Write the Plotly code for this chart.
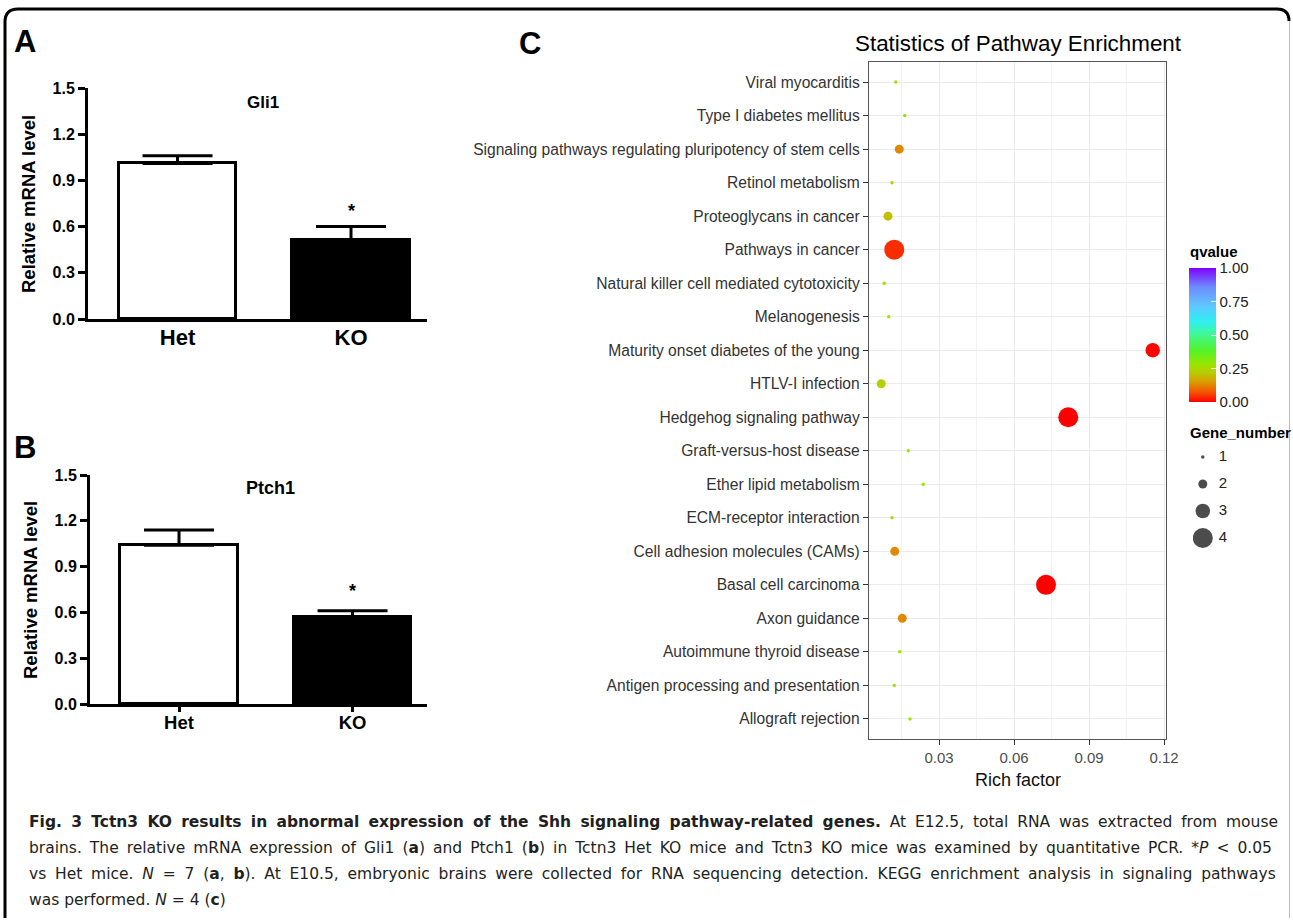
import plotly.graph_objects as go

W, H = 1293, 921
def px(x): return x / W
def py(y): return 1 - y / H

# ---------------- data ----------------
groups = ["Het", "KO"]
gli1_mean = [1.01, 0.51]
gli1_sem = [0.05, 0.09]
ptch1_mean = [1.04, 0.57]
ptch1_sem = [0.10, 0.04]
bar_ticks = [0.0, 0.3, 0.6, 0.9, 1.2, 1.5]

pathways = [
    "Viral myocarditis",
    "Type I diabetes mellitus",
    "Signaling pathways regulating pluripotency of stem cells",
    "Retinol metabolism",
    "Proteoglycans in cancer",
    "Pathways in cancer",
    "Natural killer cell mediated cytotoxicity",
    "Melanogenesis",
    "Maturity onset diabetes of the young",
    "HTLV-I infection",
    "Hedgehog signaling pathway",
    "Graft-versus-host disease",
    "Ether lipid metabolism",
    "ECM-receptor interaction",
    "Cell adhesion molecules (CAMs)",
    "Basal cell carcinoma",
    "Axon guidance",
    "Autoimmune thyroid disease",
    "Antigen processing and presentation",
    "Allograft rejection",
]
rich_factor = [0.0127, 0.0163, 0.0141, 0.0112, 0.0096, 0.0121, 0.0081, 0.0099, 0.1155, 0.0069,
               0.0817, 0.0177, 0.0237, 0.0112, 0.0123, 0.0728, 0.0153, 0.0143, 0.0121, 0.0184]
qvalue = [0.27, 0.29, 0.13, 0.27, 0.20, 0.04, 0.29, 0.28, 0.005, 0.23,
          0.0, 0.28, 0.28, 0.27, 0.13, 0.0, 0.13, 0.28, 0.28, 0.28]
gene_number = [1, 1, 2, 1, 2, 4, 1, 1, 3, 2, 4, 1, 1, 1, 2, 4, 2, 1, 1, 1]
rich_ticks = [0.03, 0.06, 0.09, 0.12]
q_ticks = [0.0, 0.25, 0.5, 0.75, 1.0]
size_levels = [1, 2, 3, 4]

# ---------------- styles ----------------
size_map = {1: 3.5, 2: 9, 3: 14.5, 4: 20}
bar_fill = ["white", "black"]
q_scale = [
    [0.00, "#FF0000"], [0.08, "#F25A00"], [0.15, "#DA9C00"], [0.22, "#B9CC00"],
    [0.28, "#9AE600"], [0.38, "#55F226"], [0.50, "#40F890"], [0.60, "#30F0F0"],
    [0.72, "#5FC6FF"], [0.86, "#6E8AFF"], [1.00, "#8000FF"],
]
ARIAL = "Liberation Sans, Arial, sans-serif"

fig = go.Figure()

# ---------------- panel A & B bars ----------------
for idx, (means, sems) in enumerate([(gli1_mean, gli1_sem), (ptch1_mean, ptch1_sem)]):
    xa = "x" if idx == 0 else "x2"
    ya = "y" if idx == 0 else "y2"
    fig.add_trace(go.Bar(
        x=groups, y=means, xaxis=xa, yaxis=ya, width=0.675,
        marker=dict(color=bar_fill, line=dict(color="black", width=3)),
        error_y=dict(type="data", symmetric=False, array=sems, arrayminus=[0] * len(sems),
                     color="black", thickness=3, width=35),
        showlegend=False, hoverinfo="skip",
    ))

# ---------------- panel C bubbles ----------------
fig.add_trace(go.Scatter(
    x=rich_factor, y=pathways, mode="markers", xaxis="x3", yaxis="y3",
    marker=dict(
        size=[size_map[g] for g in gene_number], color=qvalue, cmin=0, cmax=1,
        colorscale=q_scale, line=dict(width=0), opacity=1,
        colorbar=dict(
            thickness=27, thicknessmode="pixels", len=134, lenmode="pixels",
            x=px(1189), xanchor="left", y=py(335), yanchor="middle", xpad=0, ypad=0,
            tickvals=q_ticks, tickformat=".2f", ticks="inside", tickcolor="rgba(255,255,255,0.8)", ticklen=5,
            outlinewidth=0, tickfont=dict(family=ARIAL, size=15, color="#222"),
        ),
    ),
    showlegend=False, hoverinfo="skip",
))

# size legend
fig.add_trace(go.Scatter(
    x=[0] * len(size_levels), y=size_levels, mode="markers", xaxis="x4", yaxis="y4",
    marker=dict(color="black", size=[size_map[s] for s in size_levels], line=dict(width=0)),
    showlegend=False, hoverinfo="skip",
))
fig.add_trace(go.Scatter(
    x=[1] * len(size_levels), y=size_levels, mode="text", xaxis="x4", yaxis="y4",
    text=[str(s) for s in size_levels], textposition="middle center",
    textfont=dict(family=ARIAL, size=15, color="#222"),
    showlegend=False, hoverinfo="skip",
))

axis_black = dict(showline=True, linecolor="black", linewidth=3, showgrid=False, zeroline=False,
                  automargin=False)

fig.update_layout(
    width=W, height=H, margin=dict(l=0, r=0, t=0, b=0, pad=0, autoexpand=False),
    paper_bgcolor="white", plot_bgcolor="white", bargap=0,
    xaxis=dict(domain=[px(88), px(427)], anchor="y", range=[-0.516, 1.438], ticks="",
               tickfont=dict(family=ARIAL, size=22, color="black", weight="bold"),
               ticklabelstandoff=-3, **axis_black),
    yaxis=dict(domain=[py(319), py(88)], anchor="x", range=[0, 1.5], tickvals=bar_ticks, tickformat=".1f",
               ticks="outside", ticklen=7, tickwidth=2.5, tickcolor="black",
               tickfont=dict(family=ARIAL, size=16, color="black", weight="bold"), **axis_black),
    xaxis2=dict(domain=[px(90), px(427)], anchor="y2", range=[-0.513, 1.429], ticks="outside",
                ticklen=5, tickwidth=2.5, tickcolor="black", ticklabelstandoff=-5,
                tickfont=dict(family=ARIAL, size=18.5, color="black", weight="bold"), **axis_black),
    yaxis2=dict(domain=[py(704), py(475)], anchor="x2", range=[0, 1.5], tickvals=bar_ticks, tickformat=".1f",
                ticks="outside", ticklen=7, tickwidth=2.5, tickcolor="black",
                tickfont=dict(family=ARIAL, size=16, color="black", weight="bold"), **axis_black),
    xaxis3=dict(domain=[px(869), px(1166)], anchor="y3", range=[0.002, 0.1208],
                tickvals=rich_ticks, ticktext=[f"{t:.2f}" for t in rich_ticks],
                ticks="outside", ticklen=5, tickwidth=1.2, tickcolor="#333",
                tickfont=dict(family=ARIAL, size=15, color="#4D4D4D"),
                showline=True, mirror=True, linecolor="#555", linewidth=1.3, automargin=False,
                showgrid=True, gridcolor="#EBEBEB", gridwidth=1, zeroline=False,
                minor=dict(tick0=0, dtick=0.015, showgrid=True, gridcolor="#F2F2F2", gridwidth=1, ticks="")),
    yaxis3=dict(domain=[py(739), py(62)], anchor="x3", type="category",
                categoryorder="array", categoryarray=pathways, range=[len(pathways) - 0.4, -0.6],
                ticks="outside", ticklen=5, tickwidth=1.2, tickcolor="#333",
                tickfont=dict(family=ARIAL, size=15.6, color="#333"),
                showline=True, mirror=True, linecolor="#555", linewidth=1.3, automargin=False,
                showgrid=True, gridcolor="#EBEBEB", gridwidth=1, zeroline=False),
    xaxis4=dict(domain=[px(1193), px(1233)], anchor="y4", range=[-0.49, 1.51], visible=False),
    yaxis4=dict(domain=[py(551.5), py(443.5)], anchor="x4", range=[4.5, 0.5], visible=False),
)

ann = []
def label(text, x, y, size, bold=False, **kw):
    ann.append(dict(text=text, x=px(x), y=py(y), xref="paper", yref="paper", showarrow=False,
                    font=dict(family=kw.pop("family", ARIAL), size=size, color=kw.pop("color", "black"),
                              weight="bold" if bold else "normal"), **kw))

# panel letters
label("A", 12, 41, 31, True, xanchor="left", yanchor="middle")
label("B", 12, 447, 31, True, xanchor="left", yanchor="middle")
label("C", 517, 43, 31, True, xanchor="left", yanchor="middle")
# bar panel titles
label("Gli1", 263, 102, 17, True, xanchor="center", yanchor="middle")
label("Ptch1", 270, 488, 18, True, xanchor="center", yanchor="middle")
label("Relative mRNA level", 28, 204, 18.5, True, textangle=-90, xanchor="center", yanchor="middle")
label("Relative mRNA level", 30, 590, 18.5, True, textangle=-90, xanchor="center", yanchor="middle")
# significance stars from data
ann.append(dict(text="<b>*</b>", x=groups[1], y=gli1_mean[1] + gli1_sem[1], xref="x", yref="y",
                showarrow=False, yanchor="middle", yshift=16, font=dict(family=ARIAL, size=18, color="black")))
ann.append(dict(text="<b>*</b>", x=groups[1], y=ptch1_mean[1] + ptch1_sem[1], xref="x2", yref="y2",
                showarrow=False, yanchor="middle", yshift=20, font=dict(family=ARIAL, size=18, color="black")))
# panel C text
label("Statistics of Pathway Enrichment", 1018, 43, 22.4, xanchor="center", yanchor="middle")
label("Rich factor", 1018, 780, 18, xanchor="center", yanchor="middle", color="#111")
label("<b>qvalue</b>", 1188, 251, 15, xanchor="left", yanchor="middle")
label("<b>Gene_number</b>", 1188, 432, 15, xanchor="left", yanchor="middle")

# caption (extra narrow spaces emulate the justified lines)
CAP = "DejaVu Sans, Open Sans, sans-serif"
cap_lines = [
    "<b>Fig. 3 Tctn3 KO results in abnormal expression of the Shh signaling pathway-related genes.</b> At E12.5, total RNA was extracted from mouse",
    "brains. The relative mRNA expression of Gli1 (<b>a</b>) and Ptch1 (<b>b</b>) in Tctn3 Het KO mice and Tctn3 KO mice was examined by quantitative PCR. *<i>P</i> < 0.05",
    "vs Het mice. <i>N</i> = 7 (<b>a</b>, <b>b</b>). At E10.5, embryonic brains were collected for RNA sequencing detection. KEGG enrichment analysis in signaling pathways",
    "was performed. <i>N</i> = 4 (<b>c</b>)",
]
cap_pad = ["\u2005", "\u2009", "\u2005", ""]
for i, (t, pad) in enumerate(zip(cap_lines, cap_pad)):
    ann.append(dict(text=t.replace(" ", " " + pad), x=px(27), y=py(822 + 26 * i), xref="paper", yref="paper",
                    showarrow=False, xanchor="left", yanchor="middle",
                    font=dict(family=CAP, size=15.5, color="#231F20")))

fig.update_layout(annotations=ann)

# frame
def P(x, y): return f"{px(x):.5f},{py(y):.5f}"
frame = f"M {P(5, 918)} L {P(5, 22)} Q {P(5, 9)} {P(18, 9)} L {P(1277, 9)} Q {P(1289, 9)} {P(1289, 21)}"
fig.add_shape(type="path", path=frame, xref="paper", yref="paper", line=dict(color="black", width=3))
fig.add_shape(type="line", x0=px(1289.5), x1=px(1289.5), y0=py(21), y1=py(918), xref="paper", yref="paper",
              line=dict(color="#BBBBBB", width=1))

fig.write_html("out.html", config={"displayModeBar": False},
               post_script="document.body.style.margin='0';document.body.style.padding='0';"
                           "document.body.style.overflow='hidden';")
